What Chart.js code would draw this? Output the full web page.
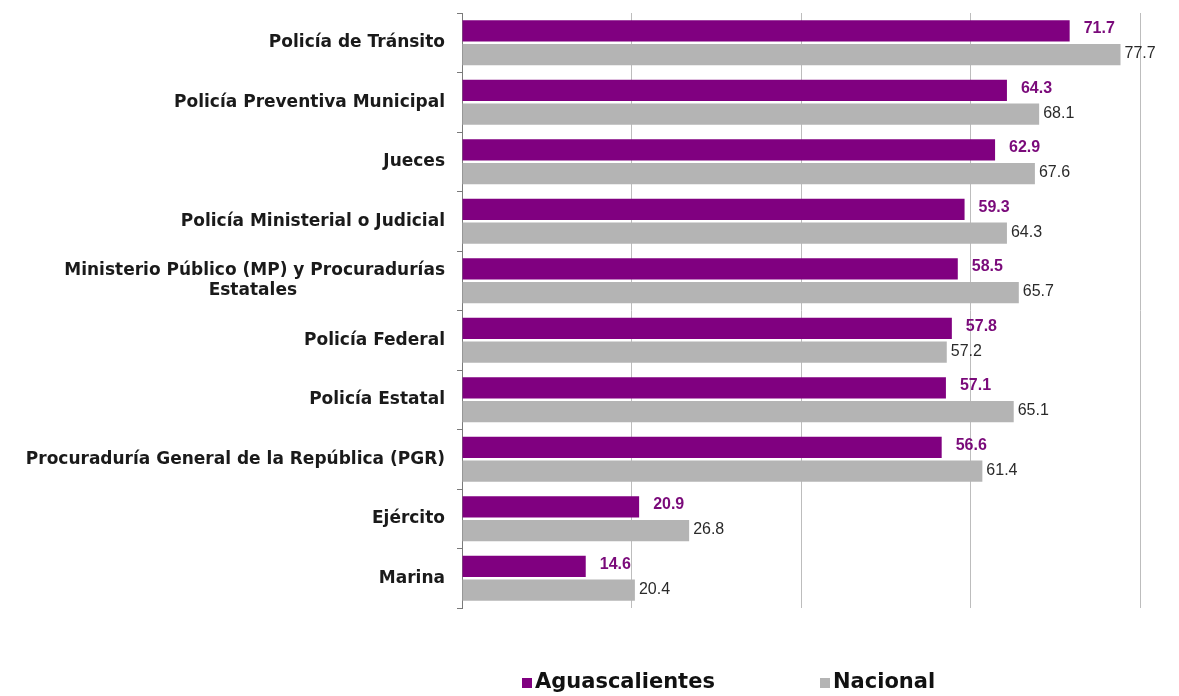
<!DOCTYPE html>
<html><head><meta charset="utf-8">
<script src="https://cdn.jsdelivr.net/npm/chart.js@4.4.1/dist/chart.umd.min.js"></script>
<style>html,body{margin:0;padding:0;background:#fff}#w{width:1179px;height:696px}</style>
</head><body><div id="w"><canvas id="c" width="1179" height="696"></canvas></div>
<script>
const categories = [
  "Policía de Tránsito",
  "Policía Preventiva Municipal",
  "Jueces",
  "Policía Ministerial o Judicial",
  ["Ministerio Público (MP) y Procuradurías", "Estatales"],
  "Policía Federal",
  "Policía Estatal",
  "Procuraduría General de la República (PGR)",
  "Ejército",
  "Marina"
];
const aguascalientes = [71.7, 64.3, 62.9, 59.3, 58.5, 57.8, 57.1, 56.6, 20.9, 14.6];
const nacional = [77.7, 68.1, 67.6, 64.3, 65.7, 57.2, 65.1, 61.4, 26.8, 20.4];
const seriesNames = ["Aguascalientes", "Nacional"];
const xTicks = [0, 20, 40, 60, 80];

const PURPLE = '#800080', GRAY = '#b4b4b4';
const LABEL_FONT = 'bold 17px "DejaVu Sans", sans-serif';

// center the 2nd line of multi-line labels under the first by padding with trailing spaces
const mctx = document.createElement('canvas').getContext('2d');
mctx.font = LABEL_FONT;
function centerLines(lbl) {
  if (!Array.isArray(lbl)) return lbl;
  const w0 = mctx.measureText(lbl[0]).width;
  const sp = mctx.measureText(' ').width;
  return lbl.map((l, i) => {
    if (i === 0) return l;
    const w = mctx.measureText(l).width;
    const n = Math.max(0, Math.round((w0 - w) / 2 / sp));
    return l + ' '.repeat(n);
  });
}

const valueLabels = {
  id: 'valueLabels',
  afterDatasetsDraw(chart) {
    const ctx = chart.ctx;
    ctx.save();
    chart.data.datasets.forEach((ds, di) => {
      const meta = chart.getDatasetMeta(di);
      meta.data.forEach((bar, i) => {
        const v = ds.data[i];
        ctx.textBaseline = 'middle';
        ctx.textAlign = 'left';
        if (di === 0) {
          ctx.fillStyle = '#7a0a7a';
          ctx.font = 'bold 16px "Liberation Sans", Arial, sans-serif';
          ctx.fillText(v.toFixed(1), bar.x + 14, bar.y - 2);
        } else {
          ctx.fillStyle = '#2a2a2a';
          ctx.font = '16px "Liberation Sans", Arial, sans-serif';
          ctx.fillText(v.toFixed(1), bar.x + 4, bar.y - 1);
        }
      });
    });
    ctx.restore();
  }
};

const customLegend = {
  id: 'customLegend',
  afterDraw(chart) {
    const ctx = chart.ctx;
    ctx.save();
    ctx.font = 'bold 21px "DejaVu Sans", sans-serif';
    ctx.textBaseline = 'middle';
    ctx.textAlign = 'left';
    const xs = [522, 820];
    const y = 683;
    chart.data.datasets.forEach((ds, i) => {
      ctx.fillStyle = ds.backgroundColor;
      ctx.fillRect(xs[i], y - 5, 10, 10);
      ctx.fillStyle = '#111';
      ctx.fillText(ds.label, xs[i] + 13, y);
    });
    ctx.restore();
  }
};

new Chart(document.getElementById('c'), {
  type: 'bar',
  data: {
    labels: categories.map(centerLines),
    datasets: [
      { label: seriesNames[0], data: aguascalientes, backgroundColor: PURPLE, barPercentage: 0.9, categoryPercentage: 0.8 },
      { label: seriesNames[1], data: nacional, backgroundColor: GRAY, barPercentage: 0.9, categoryPercentage: 0.8 }
    ]
  },
  options: {
    indexAxis: 'y',
    responsive: false,
    animation: false,
    devicePixelRatio: 1,
    layout: { padding: { top: 13, right: 39, bottom: 88, left: 0 } },
    plugins: { legend: { display: false }, tooltip: { enabled: false }, title: { display: false } },
    scales: {
      x: {
        min: xTicks[0], max: xTicks[xTicks.length - 1],
        afterBuildTicks(scale) { scale.ticks = xTicks.map(v => ({ value: v })); },
        ticks: { display: false },
        grid: { color: ctx => ctx.tick && ctx.tick.value === 0 ? 'rgba(0,0,0,0)' : '#bdbdbd', lineWidth: 1, drawTicks: false },
        border: { display: false },
        afterFit(scale) { scale.height = 0; scale.paddingLeft = 0; scale.paddingRight = 0; }
      },
      y: {
        afterFit(scale) { scale.width = 462; scale.paddingTop = 0; scale.paddingBottom = 0; },
        grid: { display: true, drawOnChartArea: false, offset: true, tickLength: 5, color: '#7a7a7a' },
        border: { display: true, color: '#7a7a7a', width: 1 },
        ticks: {
          color: '#1a1a1a',
          padding: 12,
          font: { family: '"DejaVu Sans", sans-serif', size: 17, weight: 'bold', lineHeight: 1.15 }
        }
      }
    }
  },
  plugins: [valueLabels, customLegend]
});
</script>
</body></html>
